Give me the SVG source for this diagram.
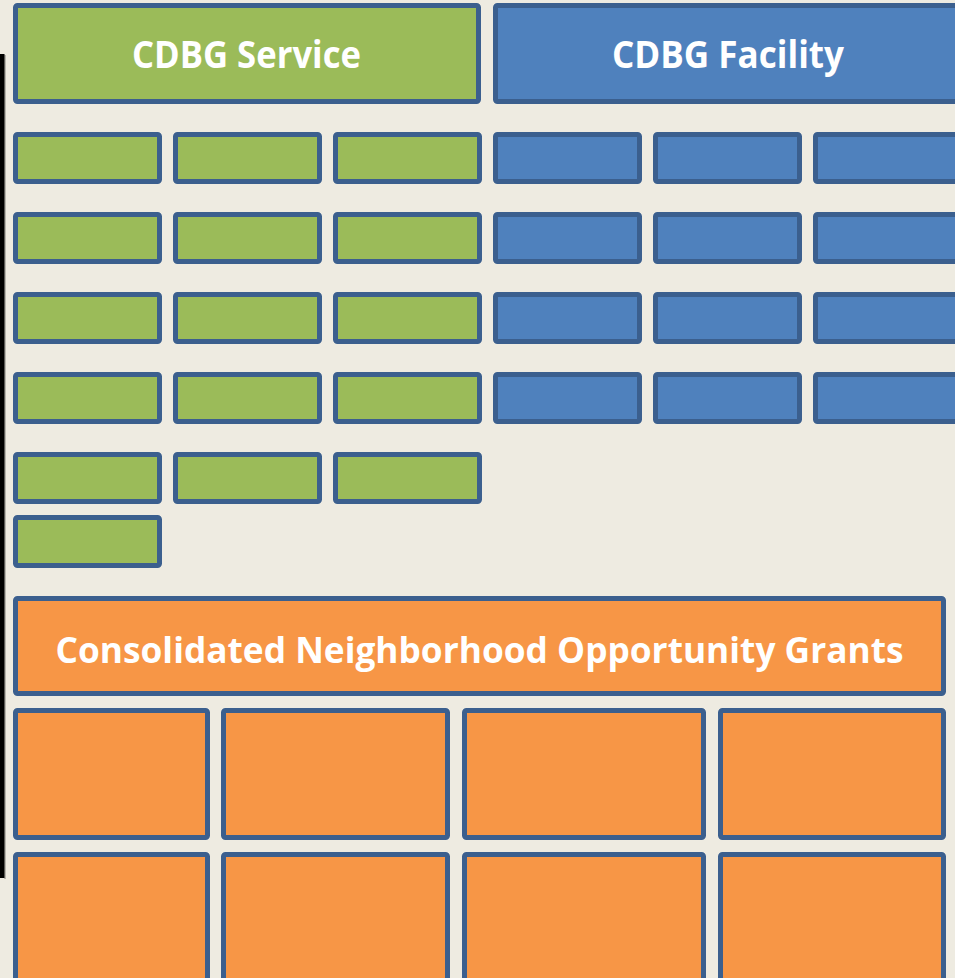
<svg xmlns="http://www.w3.org/2000/svg" width="955" height="978" viewBox="0 0 955 978">
<style>
.b{stroke:#3B5F8E;stroke-width:5;}
.g{fill:#9BBB59;}
.u{fill:#4F81BD;}
.o{fill:#F79646;}
.t{font-family:"Open Sans","Noto Sans",sans-serif;font-weight:bold;fill:#FFFFFF;text-anchor:middle;}
</style>
<rect x="0" y="0" width="955" height="978" fill="#EEEBE1"/>
<rect x="4" y="55" width="2" height="824" fill="#B8B6AE"/>
<rect x="0" y="54" width="4.5" height="824" fill="#000000"/>
<g id="cdbg-service-header">
<rect class="b g" x="15.5" y="5.5" width="463" height="96" rx="2"/>
<text class="t" x="246.5" y="68" font-size="38" textLength="229" lengthAdjust="spacingAndGlyphs">CDBG Service</text>
</g>
<g id="cdbg-facility-header">
<rect class="b u" x="495.5" y="5.5" width="463" height="96" rx="2"/>
<text class="t" x="728" y="68" font-size="38" textLength="232" lengthAdjust="spacingAndGlyphs">CDBG Facility</text>
</g>
<g id="service-items">
<rect class="b g" x="15.5" y="134.5" width="144" height="47" rx="2"/>
<rect class="b g" x="175.5" y="134.5" width="144" height="47" rx="2"/>
<rect class="b g" x="335.5" y="134.5" width="144" height="47" rx="2"/>
<rect class="b g" x="15.5" y="214.5" width="144" height="47" rx="2"/>
<rect class="b g" x="175.5" y="214.5" width="144" height="47" rx="2"/>
<rect class="b g" x="335.5" y="214.5" width="144" height="47" rx="2"/>
<rect class="b g" x="15.5" y="294.5" width="144" height="47" rx="2"/>
<rect class="b g" x="175.5" y="294.5" width="144" height="47" rx="2"/>
<rect class="b g" x="335.5" y="294.5" width="144" height="47" rx="2"/>
<rect class="b g" x="15.5" y="374.5" width="144" height="47" rx="2"/>
<rect class="b g" x="175.5" y="374.5" width="144" height="47" rx="2"/>
<rect class="b g" x="335.5" y="374.5" width="144" height="47" rx="2"/>
<rect class="b g" x="15.5" y="454.5" width="144" height="47" rx="2"/>
<rect class="b g" x="175.5" y="454.5" width="144" height="47" rx="2"/>
<rect class="b g" x="335.5" y="454.5" width="144" height="47" rx="2"/>
<rect class="b g" x="15.5" y="517.5" width="144" height="48" rx="2"/>
</g>
<g id="facility-items">
<rect class="b u" x="495.5" y="134.5" width="144" height="47" rx="2"/>
<rect class="b u" x="655.5" y="134.5" width="144" height="47" rx="2"/>
<rect class="b u" x="815.5" y="134.5" width="144" height="47" rx="2"/>
<rect class="b u" x="495.5" y="214.5" width="144" height="47" rx="2"/>
<rect class="b u" x="655.5" y="214.5" width="144" height="47" rx="2"/>
<rect class="b u" x="815.5" y="214.5" width="144" height="47" rx="2"/>
<rect class="b u" x="495.5" y="294.5" width="144" height="47" rx="2"/>
<rect class="b u" x="655.5" y="294.5" width="144" height="47" rx="2"/>
<rect class="b u" x="815.5" y="294.5" width="144" height="47" rx="2"/>
<rect class="b u" x="495.5" y="374.5" width="144" height="47" rx="2"/>
<rect class="b u" x="655.5" y="374.5" width="144" height="47" rx="2"/>
<rect class="b u" x="815.5" y="374.5" width="144" height="47" rx="2"/>
</g>
<g id="cnog-header">
<rect class="b o" x="15.5" y="598.5" width="928" height="95" rx="2"/>
<text class="t" x="479.5" y="663" font-size="36" textLength="848" lengthAdjust="spacingAndGlyphs">Consolidated Neighborhood Opportunity Grants</text>
</g>
<g id="cnog-items">
<rect class="b o" x="15.5" y="710.5" width="192" height="127" rx="2"/>
<rect class="b o" x="223.5" y="710.5" width="224" height="127" rx="2"/>
<rect class="b o" x="464.5" y="710.5" width="239" height="127" rx="2"/>
<rect class="b o" x="720.5" y="710.5" width="223" height="127" rx="2"/>
<rect class="b o" x="15.5" y="854.5" width="192" height="140" rx="2"/>
<rect class="b o" x="223.5" y="854.5" width="224" height="140" rx="2"/>
<rect class="b o" x="464.5" y="854.5" width="239" height="140" rx="2"/>
<rect class="b o" x="720.5" y="854.5" width="223" height="140" rx="2"/>
</g>
<g id="connectors"></g>
</svg>
